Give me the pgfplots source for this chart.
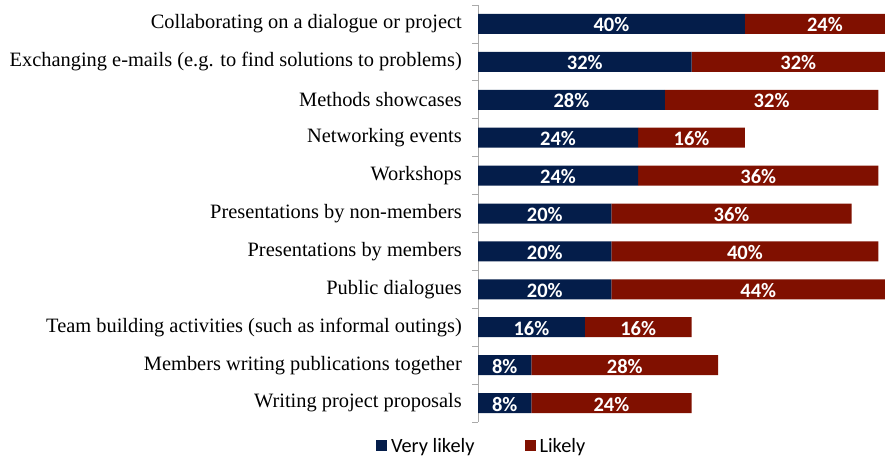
\documentclass[border=0pt]{standalone}
\usepackage{pgfplots}
\pgfplotsset{compat=1.18}
\usepackage{fontspec}
\setmainfont{Liberation Serif}
\newfontfamily\calibri{Carlito}
\definecolor{navy}{RGB}{4,29,74}
\definecolor{brick}{RGB}{128,16,0}
\definecolor{axisgray}{RGB}{170,170,170}

\pgfplotsset{
    frame/.style={
        at={(478pt,35pt)}, anchor=south west,
        scale only axis, width=407pt, height=417pt,
        xmin=0, xmax=61, ymin=-0.5, ymax=10.5, y dir=reverse,
    },
}

\begin{document}
\begin{tikzpicture}
\useasboundingbox (0,0) rectangle (885pt,457pt);
\begin{axis}[
    frame,
    xbar stacked, bar width=20pt,
    axis x line=none, axis y line*=left,
    y axis line style={axisgray, line width=0.8pt},
    ytick={0,...,10},
    yticklabels={
        Collaborating on a dialogue or project,
        {Exchanging e-mails (e.g. to find solutions to problems)},
        Methods showcases,
        Networking events,
        Workshops,
        Presentations by non-members,
        Presentations by members,
        Public dialogues,
        {Team building activities (such as informal outings)},
        Members writing publications together,
        Writing project proposals},
    minor ytick={-0.5,0.5,...,10.5},
    tick align=outside,
    major tick length=0pt, minor tick length=6pt,
    minor tick style={axisgray, line width=0.8pt},
    yticklabel style={font=\fontsize{20.4}{24}\selectfont, inner sep=0pt,
        anchor=east, xshift=-16pt},
    legend style={at={(axis description cs:0.009,-0.057)}, anchor=center,
        draw=none, inner sep=0pt,
        font=\calibri\fontsize{20.3}{24}\selectfont,
        legend columns=2,
        /tikz/every even column/.append style={column sep=48pt}},
    legend image code/.code={
        \fill[#1] (0pt,-5.5pt) rectangle (11pt,5.5pt);
        \path (13pt,0pt);},
]
% Very likely
\addplot[fill=navy, draw=none] coordinates {
    (40,0) (32,1) (28,2) (24,3) (24,4) (20,5) (20,6) (20,7) (16,8) (8,9) (8,10)};
\addlegendentry{Very likely}
% Likely
\addplot[fill=brick, draw=none] coordinates {
    (24,0) (32,1) (32,2) (16,3) (36,4) (36,5) (40,6) (44,7) (16,8) (28,9) (24,10)};
\addlegendentry{Likely}
\end{axis}

% value labels, centred in each segment
\begin{axis}[
    frame, hide axis, clip=false,
    every node near coord/.append style={anchor=center, text=white,
        inner sep=0pt, yshift=-1pt,
        font=\calibri\bfseries\fontsize{20.5}{24}\selectfont},
]
\addplot[draw=none, mark=none, point meta=explicit symbolic,
    nodes near coords] coordinates {
    (20,0)[40\%] (16,1)[32\%] (14,2)[28\%] (12,3)[24\%] (12,4)[24\%]
    (10,5)[20\%] (10,6)[20\%] (10,7)[20\%] (8,8)[16\%] (4,9)[8\%] (4,10)[8\%]};
\addplot[draw=none, mark=none, point meta=explicit symbolic,
    nodes near coords] coordinates {
    (52,0)[24\%] (48,1)[32\%] (44,2)[32\%] (32,3)[16\%] (42,4)[36\%]
    (38,5)[36\%] (40,6)[40\%] (42,7)[44\%] (24,8)[16\%] (22,9)[28\%] (20,10)[24\%]};
\end{axis}
\end{tikzpicture}
\end{document}
